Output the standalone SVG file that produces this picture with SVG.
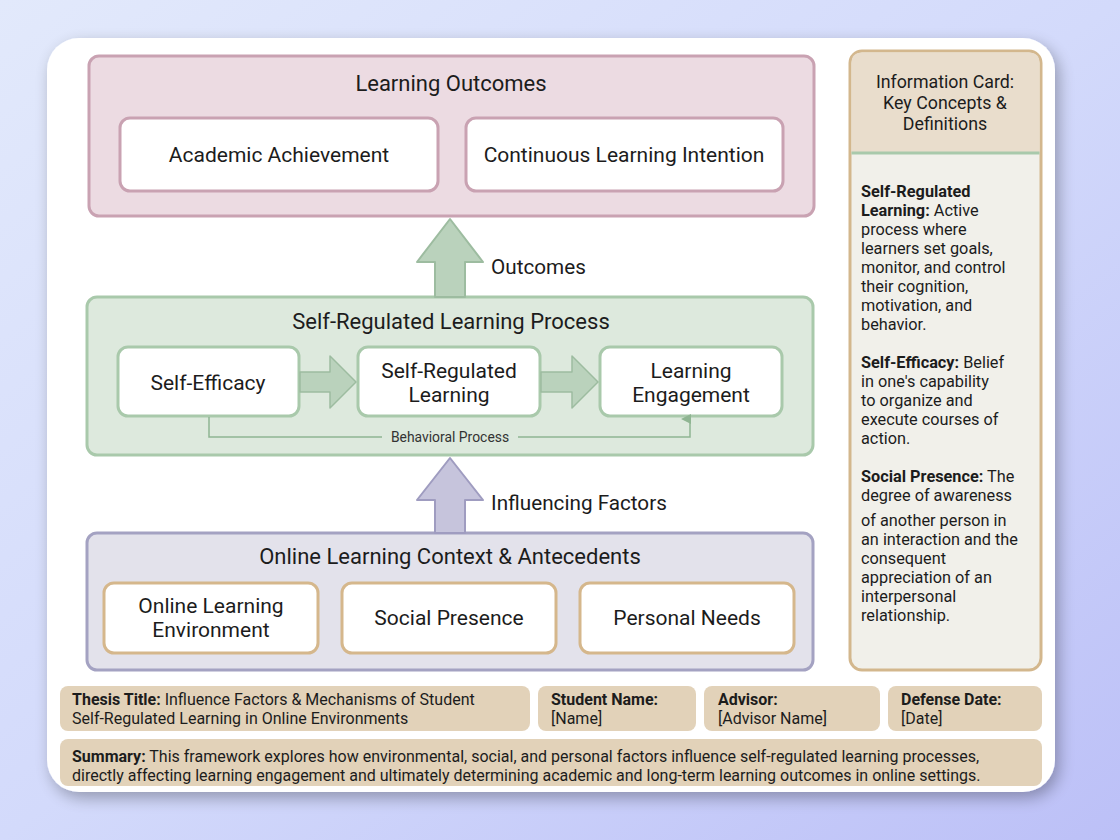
<svg xmlns="http://www.w3.org/2000/svg" width="1120" height="840" viewBox="0 0 1120 840">
<defs>
<linearGradient id="bg" x1="0" y1="0" x2="1" y2="1">
<stop offset="0" stop-color="#e2e9fb"/>
<stop offset="0.5" stop-color="#d3dafb"/>
<stop offset="1" stop-color="#bcc0f7"/>
</linearGradient>
<filter id="sh" x="-10%" y="-10%" width="120%" height="120%">
<feGaussianBlur in="SourceAlpha" stdDeviation="8"/>
<feOffset dx="4" dy="6"/>
<feComponentTransfer><feFuncA type="linear" slope="0.3"/></feComponentTransfer>
<feMerge><feMergeNode/><feMergeNode in="SourceGraphic"/></feMerge>
</filter>
<marker id="ah" viewBox="0 0 10 10" refX="5" refY="9" markerWidth="10" markerHeight="10" markerUnits="userSpaceOnUse" orient="auto-start-reverse">
<path d="M0,10 L5,0 L10,10 Z" fill="#8fb592"/>
</marker>
<style>
text{font-family:Roboto,"Liberation Sans",sans-serif;fill:#1c1c1c}
.t20{font-size:22px;text-anchor:middle}
.t19{font-size:21px;text-anchor:middle}
.lbl{font-size:20.7px}
.pinkO{fill:#ecdbe2;stroke:#c9a2b2;stroke-width:3}
.pinkI{fill:#fff;stroke:#c9a2b2;stroke-width:3}
.grnO{fill:#dde9dd;stroke:#a9c9ab;stroke-width:3}
.grnI{fill:#fff;stroke:#a9c9ab;stroke-width:3}
.purO{fill:#e3e2eb;stroke:#a4a2c2;stroke-width:3}
.tanI{fill:#fff;stroke:#d5b78c;stroke-width:3}
.foot{fill:#e2d2b9}
.ft{font-size:16px}
.card{font-size:16.3px}
.b{font-weight:bold}
</style>
</defs>
<rect x="0" y="0" width="1120" height="840" fill="url(#bg)"/>
<rect x="47" y="38" width="1008" height="754" rx="32" fill="#fff" filter="url(#sh)"/>

<g id="learning-outcomes">
<rect class="pinkO" x="89" y="56" width="725" height="160" rx="10"/>
<text class="t20" x="451" y="91">Learning Outcomes</text>
</g>
<g id="academic-achievement">
<rect class="pinkI" x="120" y="118" width="318" height="73" rx="10"/>
<text class="t19" x="279" y="162">Academic Achievement</text>
</g>
<g id="continuous-learning-intention">
<rect class="pinkI" x="466" y="118" width="317" height="73" rx="10"/>
<text class="t19" x="624" y="162">Continuous Learning Intention</text>
</g>

<g id="srl-process">
<rect class="grnO" x="87" y="297" width="726" height="158" rx="10"/>
<text class="t20" x="451" y="329">Self-Regulated Learning Process</text>
</g>
<g id="self-efficacy">
<rect class="grnI" x="118" y="347" width="181" height="69" rx="10"/>
<text class="t19" x="208" y="390">Self-Efficacy</text>
</g>
<g id="self-regulated-learning">
<rect class="grnI" x="358" y="347" width="182" height="69" rx="10"/>
<text class="t19" x="449" y="378">Self-Regulated</text>
<text class="t19" x="449" y="402">Learning</text>
</g>
<g id="learning-engagement">
<rect class="grnI" x="600" y="347" width="182" height="69" rx="10"/>
<text class="t19" x="691" y="378">Learning</text>
<text class="t19" x="691" y="402">Engagement</text>
</g>

<g id="context">
<rect class="purO" x="87" y="533" width="726" height="137" rx="10"/>
<text class="t20" x="450" y="564">Online Learning Context &amp; Antecedents</text>
</g>
<g id="online-learning-environment">
<rect class="tanI" x="104" y="583" width="214" height="70" rx="10"/>
<text class="t19" x="211" y="613">Online Learning</text>
<text class="t19" x="211" y="637">Environment</text>
</g>
<g id="social-presence">
<rect class="tanI" x="342" y="583" width="214" height="70" rx="10"/>
<text class="t19" x="449" y="625">Social Presence</text>
</g>
<g id="personal-needs">
<rect class="tanI" x="580" y="583" width="214" height="70" rx="10"/>
<text class="t19" x="687" y="625">Personal Needs</text>
</g>

<g id="connectors">
<path d="M435,297 L435,262 L417,262 L450,219 L483,262 L465,262 L465,297 Z" fill="#bad2bc" stroke="#9dbca0" stroke-width="2" stroke-linejoin="round"/>
<text class="lbl" x="491" y="274">Outcomes</text>
<path d="M435,533 L435,500 L417,500 L450,458 L483,500 L465,500 L465,533 Z" fill="#c6c4dc" stroke="#9f9cc0" stroke-width="2" stroke-linejoin="round"/>
<text class="lbl" x="491" y="510">Influencing Factors</text>
<path d="M300,372 L330,372 L330,356 L356,382 L330,408 L330,392 L300,392 Z" fill="#bad2bc" stroke="#9dbca0" stroke-width="1.5" stroke-linejoin="round"/>
<path d="M541,372 L572,372 L572,356 L598,382 L572,408 L572,392 L541,392 Z" fill="#bad2bc" stroke="#9dbca0" stroke-width="1.5" stroke-linejoin="round"/>
<path d="M209,417 L209,437 L382,437" fill="none" stroke="#8fb592" stroke-width="1.5"/>
<path d="M518,437 L690,437 L690,419" fill="none" stroke="#8fb592" stroke-width="1.5" marker-end="url(#ah)"/>
<text x="450" y="442" style="font-size:13.9px;text-anchor:middle;fill:#333">Behavioral Process</text>
</g>

<g id="info-card">
<rect x="850" y="51" width="191" height="619" rx="12" fill="#f1f0ea" stroke="#d3b78d" stroke-width="3"/>
<path d="M851.5,152 L851.5,63 Q851.5,52.5 862,52.5 L1029,52.5 Q1039.5,52.5 1039.5,63 L1039.5,152 Z" fill="#e9ddcc"/>
<line x1="851.5" y1="153" x2="1039.5" y2="153" stroke="#a9c9ab" stroke-width="3"/>
<text x="945" y="88" style="font-size:17.8px;text-anchor:middle">Information Card:</text>
<text x="945" y="109" style="font-size:17.8px;text-anchor:middle">Key Concepts &amp;</text>
<text x="945" y="130" style="font-size:17.8px;text-anchor:middle">Definitions</text>
<text class="card" x="861">
<tspan x="861" y="197" class="b">Self-Regulated</tspan>
<tspan x="861" y="216"><tspan class="b">Learning:</tspan> Active</tspan>
<tspan x="861" y="235">process where</tspan>
<tspan x="861" y="254">learners set goals,</tspan>
<tspan x="861" y="273">monitor, and control</tspan>
<tspan x="861" y="292">their cognition,</tspan>
<tspan x="861" y="311">motivation, and</tspan>
<tspan x="861" y="330">behavior.</tspan>
<tspan x="861" y="368"><tspan class="b">Self-Efficacy:</tspan> Belief</tspan>
<tspan x="861" y="387">in one's capability</tspan>
<tspan x="861" y="406">to organize and</tspan>
<tspan x="861" y="425">execute courses of</tspan>
<tspan x="861" y="444">action.</tspan>
<tspan x="861" y="482"><tspan class="b">Social Presence:</tspan> The</tspan>
<tspan x="861" y="501">degree of awareness</tspan>
<tspan x="861" y="526">of another person in</tspan>
<tspan x="861" y="545">an interaction and the</tspan>
<tspan x="861" y="564">consequent</tspan>
<tspan x="861" y="583">appreciation of an</tspan>
<tspan x="861" y="602">interpersonal</tspan>
<tspan x="861" y="621">relationship.</tspan>
</text>
</g>

<g id="thesis-title">
<rect class="foot" x="60" y="686" width="470" height="45" rx="8"/>
<text class="ft" x="72" y="705"><tspan class="b">Thesis Title:</tspan> Influence Factors &amp; Mechanisms of Student</text>
<text class="ft" x="72" y="724">Self-Regulated Learning in Online Environments</text>
</g>
<g id="student-name">
<rect class="foot" x="538" y="686" width="158" height="45" rx="8"/>
<text class="ft b" x="551" y="705">Student Name:</text>
<text class="ft" x="551" y="724">[Name]</text>
</g>
<g id="advisor">
<rect class="foot" x="704" y="686" width="176" height="45" rx="8"/>
<text class="ft b" x="718" y="705">Advisor:</text>
<text class="ft" x="718" y="724">[Advisor Name]</text>
</g>
<g id="defense-date">
<rect class="foot" x="888" y="686" width="154" height="45" rx="8"/>
<text class="ft b" x="901" y="705">Defense Date:</text>
<text class="ft" x="901" y="724">[Date]</text>
</g>
<g id="summary">
<rect class="foot" x="60" y="739" width="982" height="47" rx="8"/>
<text class="ft" x="72" y="762"><tspan class="b">Summary:</tspan> This framework explores how environmental, social, and personal factors influence self-regulated learning processes,</text>
<text class="ft" x="72" y="781">directly affecting learning engagement and ultimately determining academic and long-term learning outcomes in online settings.</text>
</g>
</svg>
